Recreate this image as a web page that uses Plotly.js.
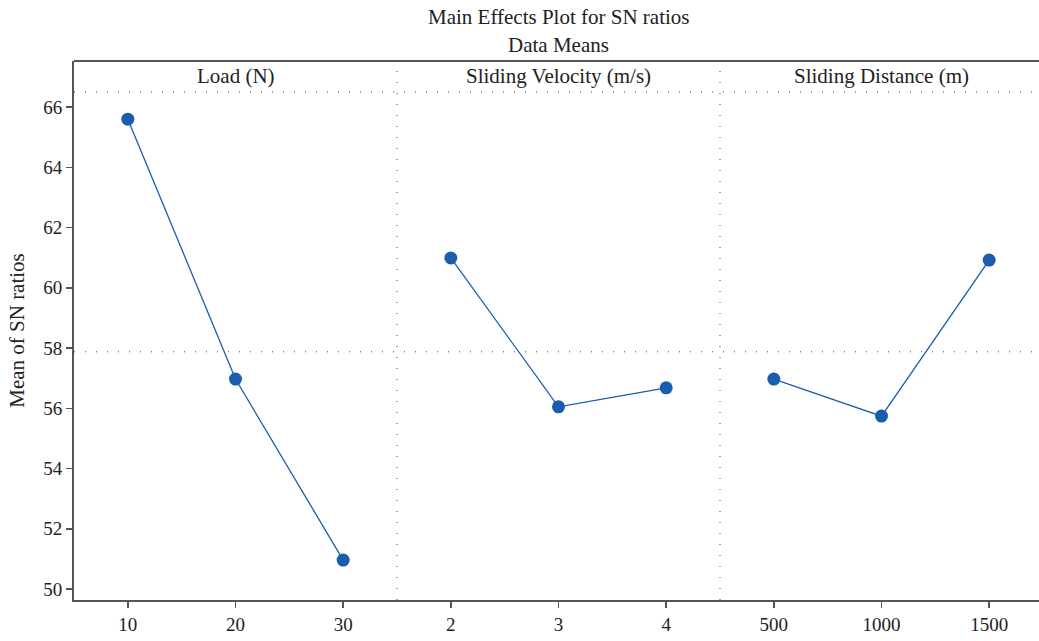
<!DOCTYPE html>
<html><head><meta charset="utf-8">
<script src="https://cdn.plot.ly/plotly-3.0.1.min.js"></script>
<style>html,body{margin:0;padding:0;overflow:hidden;background:#fff}#chart{width:1043px;height:641px}</style>
</head><body><div id="chart"></div>
<script>
const loadLevels = [10, 20, 30];
const loadMeans = [65.60, 56.97, 50.96];
const velocityLevels = [2, 3, 4];
const velocityMeans = [60.99, 56.05, 56.68];
const distanceLevels = [500, 1000, 1500];
const distanceMeans = [56.97, 55.74, 60.92];
const panelTitles = ['Load (N)', 'Sliding Velocity (m/s)', 'Sliding Distance (m)'];
const yTicks = [50, 52, 54, 56, 58, 60, 62, 64, 66];

const allVals = loadMeans.concat(velocityMeans, distanceMeans);
const grandMean = allVals.reduce((a,b)=>a+b,0)/allVals.length;

const blue = '#1a5dad';
const font = 'Liberation Serif, Times New Roman, serif';
const axisColor = '#555';
const dotDash = '1px,10px';

function tr(x, y, xa) {
  return {x: x, y: y, xaxis: xa, yaxis: 'y', type: 'scatter', mode: 'lines+markers',
    line: {color: blue, width: 1.3}, marker: {color: blue, size: 13}, hoverinfo: 'x+y', showlegend: false};
}
const data = [tr(loadLevels, loadMeans, 'x'), tr(velocityLevels, velocityMeans, 'x2'), tr(distanceLevels, distanceMeans, 'x3')];

function xax(domain, levels, step) {
  return {domain: domain, range: [levels[0] - step/2, levels[levels.length-1] + step/2],
    tickvals: levels, ticktext: levels.map(String), showgrid: false, zeroline: false,
    showline: true, linecolor: axisColor, linewidth: 2, ticks: 'outside', ticklen: 6, tickwidth: 1.5,
    tickcolor: axisColor, tickfont: {family: font, size: 19, color: '#222'}, anchor: 'y', fixedrange: true};
}

const shapes = [
  {type:'line', xref:'paper', yref:'paper', x0:0, x1:1, y0:1, y1:1, line:{color:axisColor, width:2}},
  {type:'line', xref:'paper', yref:'y', x0:0, x1:1, y0:66.5, y1:66.5, line:{color:'#444', width:1, dash:dotDash}},
  {type:'line', xref:'paper', yref:'y', x0:0, x1:1, y0:grandMean, y1:grandMean, line:{color:'#444', width:1, dash:dotDash}},
  {type:'line', xref:'paper', yref:'paper', x0:1/3, x1:1/3, y0:0, y1:1, line:{color:'#444', width:1, dash:dotDash}},
  {type:'line', xref:'paper', yref:'paper', x0:2/3, x1:2/3, y0:0, y1:1, line:{color:'#444', width:1, dash:dotDash}}
];

const annotations = [
  {text:'Main Effects Plot for SN ratios', xref:'paper', yref:'paper', x:0.5, xanchor:'center', y:1.0816, showarrow:false, yanchor:'middle', font:{family:font, size:21, color:'#222'}},
  {text:'Data Means', xref:'paper', yref:'paper', x:0.5, xanchor:'center', y:1.0297, showarrow:false, yanchor:'middle', font:{family:font, size:21, color:'#222'}}
];
panelTitles.forEach((t,i)=>{
  annotations.push({text:t, xref:'paper', yref:'y', x:(i+0.5)/3, xanchor:'center', y:67.02, showarrow:false, yanchor:'middle', font:{family:font, size:21, color:'#222'}});
});

const layout = {
  width: 1043, height: 641,
  margin: {l: 74, r: 0, t: 61, b: 41},
  paper_bgcolor: '#fff', plot_bgcolor: '#fff',
  xaxis: xax([0, 1/3], loadLevels, 10),
  xaxis2: xax([1/3, 2/3], velocityLevels, 1),
  xaxis3: xax([2/3, 1], distanceLevels, 500),
  yaxis: {range: [49.635, 67.53], tickvals: yTicks, showgrid: false, zeroline: false, showline: true,
    linecolor: axisColor, linewidth: 2, ticks: 'outside', ticklen: 6, tickwidth: 1.5, tickcolor: axisColor,
    tickfont: {family: font, size: 19, color: '#222'}, fixedrange: true,
    title: {text: 'Mean of SN ratios', font: {family: font, size: 21, color: '#222'}, standoff: 13}},
  shapes: shapes, annotations: annotations, showlegend: false
};
Plotly.newPlot('chart', data, layout, {displayModeBar: false, staticPlot: true});
</script></body></html>
